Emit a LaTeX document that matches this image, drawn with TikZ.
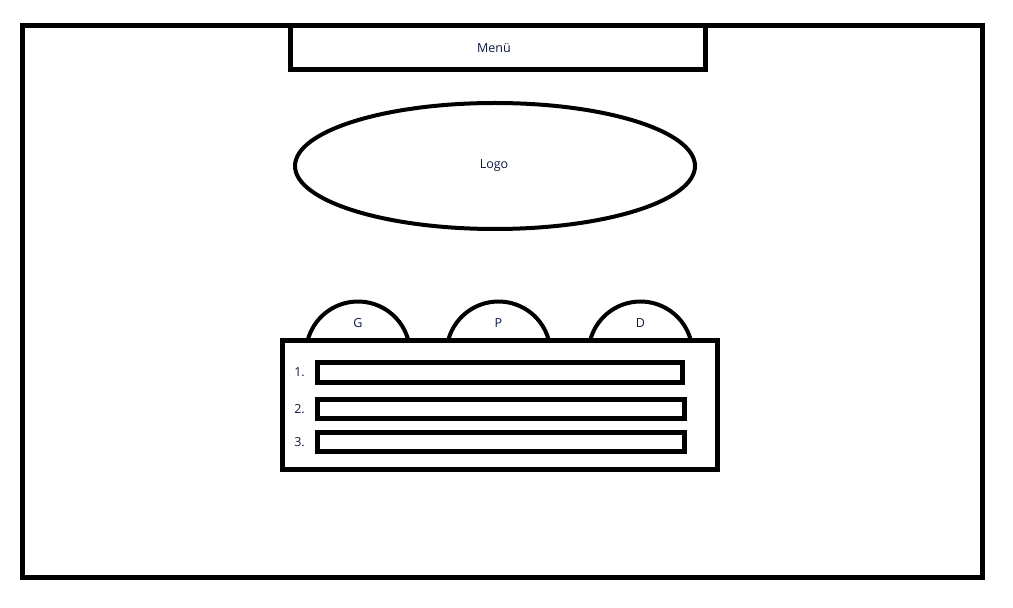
\documentclass[tikz,border=0pt]{standalone}
\usepackage{fontspec}
\setmainfont{Open Sans}
\usetikzlibrary{shapes.geometric, positioning, calc}
\definecolor{labelblue}{HTML}{101840}
\tikzset{
    frame/.style={draw=black, line width=5pt, rectangle, inner sep=0pt},
    rowbox/.style={draw=black, line width=5pt, rectangle, inner sep=0pt, minimum height=19.5pt},
    label/.style={text=labelblue, font=\fontsize{12.5}{14}\selectfont, inner sep=0pt},
    tab/.style={draw=black, line width=4pt}
}
\begin{document}
\begin{tikzpicture}[x=1pt, y=1pt]
    \useasboundingbox (0,0) rectangle (1013,608);
    \node [frame, minimum width=960pt, minimum height=552pt] (page) at (502.5,306) {};
    \node [frame, fill=white, minimum width=414.5pt, minimum height=44pt] (menu) at (497.75,560.5) {};
    \node [label] at (494,560) {Menü};
    \node [frame, ellipse, line width=4pt, minimum width=400pt, minimum height=126pt] (logo) at (495,442) {};
    \node [label] at (494,442) {Logo};
    % tabs above the list
    \coordinate (tabG) at (358,254.5);
    \coordinate (tabP) at (498.5,254.5);
    \coordinate (tabD) at (640.5,254.5);
    \foreach \t/\name in {tabG/G, tabP/P, tabD/D} {
        \draw [tab] (\t) ++(15:52) arc [start angle=15, end angle=165, radius=52];
        \node [label] at ($(\t)+(0,30)$) {\name};
    }
    \node [frame, fill=white, minimum width=435pt, minimum height=129pt] (list) at (500,203) {};
    \node [rowbox, minimum width=365pt] (row1) at (500,235.5) {};
    \node [rowbox, minimum width=366.5pt] (row2) at (500.75,199) {};
    \node [rowbox, minimum width=366.5pt] (row3) at (500.75,166) {};
    \node [label, left=10pt of row1] {1.};
    \node [label, left=10pt of row2] {2.};
    \node [label, left=10pt of row3] {3.};
\end{tikzpicture}
\end{document}
